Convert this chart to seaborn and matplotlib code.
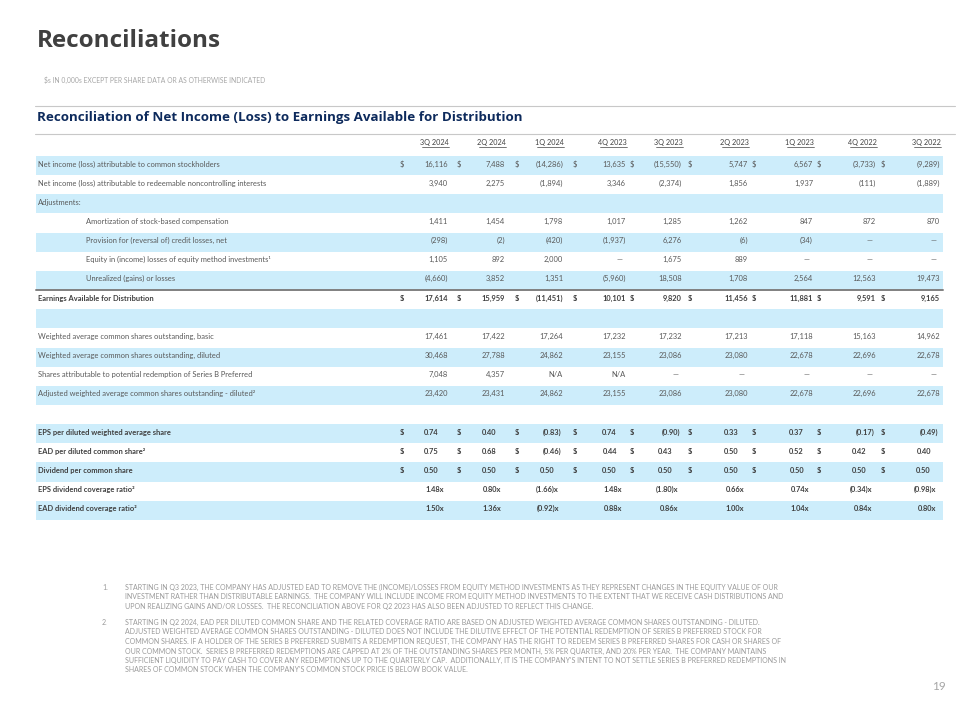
#!/usr/bin/env python
# reconciliations table slide
import numpy as np
import seaborn as sns
import matplotlib.pyplot as plt

# ---- data ----
quarters = ['3Q 2024', '2Q 2024', '1Q 2024', '4Q 2023', '3Q 2023',
            '2Q 2023', '1Q 2023', '4Q 2022', '3Q 2022']

net_income_common = [16116, 7488, -14286, 13635, -15550, 5747, 6567, -3733, -9289]
net_income_nci = [3940, 2275, -1894, 3346, -2374, 1856, 1937, -111, -1889]
amortization = [1411, 1454, 1798, 1017, 1285, 1262, 847, 872, 870]
provision = [-298, -2, -420, -1937, 6276, -6, -34, None, None]
equity_method = [1105, 892, 2000, None, 1675, 889, None, None, None]
unrealized = [-4660, 3852, 1351, -5960, 18508, 1708, 2564, 12563, 19473]
ead_total = [17614, 15959, -11451, 10101, 9820, 11456, 11881, 9591, 9165]

wavg_basic = [17461, 17422, 17264, 17232, 17232, 17213, 17118, 15163, 14962]
wavg_diluted = [30468, 27788, 24862, 23155, 23086, 23080, 22678, 22696, 22678]
series_b_shares = [7048, 4357, 'N/A', 'N/A', None, None, None, None, None]
adj_wavg_diluted = [23420, 23431, 24862, 23155, 23086, 23080, 22678, 22696, 22678]

eps_per_share = [0.74, 0.40, -0.83, 0.74, -0.90, 0.33, 0.37, -0.17, -0.49]
ead_per_share = [0.75, 0.68, -0.46, 0.44, 0.43, 0.50, 0.52, 0.42, 0.40]
dividend_per_share = [0.50, 0.50, 0.50, 0.50, 0.50, 0.50, 0.50, 0.50, 0.50]
eps_coverage = [1.48, 0.80, -1.66, 1.48, -1.80, 0.66, 0.74, -0.34, -0.98]
ead_coverage = [1.50, 1.36, -0.92, 0.88, 0.86, 1.00, 1.04, 0.84, 0.80]

# label, indent, bold, kind, dollar sign, values
rows = [
    ('Net income (loss) attributable to common stockholders', False, False, 'int', True, net_income_common),
    ('Net income (loss) attributable to redeemable noncontrolling interests', False, False, 'int', False, net_income_nci),
    ('Adjustments:', False, False, None, False, None),
    ('Amortization of stock-based compensation', True, False, 'int', False, amortization),
    ('Provision for (reversal of) credit losses, net', True, False, 'int', False, provision),
    ('Equity in (income) losses of equity method investments\u00b9', True, False, 'int', False, equity_method),
    ('Unrealized (gains) or losses', True, False, 'int', False, unrealized),
    ('Earnings Available for Distribution', False, True, 'int', True, ead_total),
    ('', False, False, None, False, None),
    ('Weighted average common shares outstanding, basic', False, False, 'int', False, wavg_basic),
    ('Weighted average common shares outstanding, diluted', False, False, 'int', False, wavg_diluted),
    ('Shares attributable to potential redemption of Series B Preferred', False, False, 'int', False, series_b_shares),
    ('Adjusted weighted average common shares outstanding - diluted\u00b2', False, False, 'int', False, adj_wavg_diluted),
    ('', False, False, None, False, None),
    ('EPS per diluted weighted average share', False, True, 'ps', True, eps_per_share),
    ('EAD per diluted common share\u00b2', False, True, 'ps', True, ead_per_share),
    ('Dividend per common share', False, True, 'ps', True, dividend_per_share),
    ('EPS dividend coverage ratio\u00b2', False, True, 'ratio', False, eps_coverage),
    ('EAD dividend coverage ratio\u00b2', False, True, 'ratio', False, ead_coverage),
]

footnotes = [
    ['STARTING IN Q3 2023, THE COMPANY HAS ADJUSTED EAD TO REMOVE THE (INCOME)/LOSSES FROM EQUITY METHOD INVESTMENTS AS THEY REPRESENT CHANGES IN THE EQUITY VALUE OF OUR',
     'INVESTMENT RATHER THAN DISTRIBUTABLE EARNINGS.  THE COMPANY WILL INCLUDE INCOME FROM EQUITY METHOD INVESTMENTS TO THE EXTENT THAT WE RECEIVE CASH DISTRIBUTIONS AND',
     'UPON REALIZING GAINS AND/OR LOSSES.  THE RECONCILIATION ABOVE FOR Q2 2023 HAS ALSO BEEN ADJUSTED TO REFLECT THIS CHANGE.'],
    ['STARTING IN Q2 2024, EAD PER DILUTED COMMON SHARE AND THE RELATED COVERAGE RATIO ARE BASED ON ADJUSTED WEIGHTED AVERAGE COMMON SHARES OUTSTANDING - DILUTED.',
     'ADJUSTED WEIGHTED AVERAGE COMMON SHARES OUTSTANDING - DILUTED DOES NOT INCLUDE THE DILUTIVE EFFECT OF THE POTENTIAL REDEMPTION OF SERIES B PREFERRED STOCK FOR',
     'COMMON SHARES. IF A HOLDER OF THE SERIES B PREFERRED SUBMITS A REDEMPTION REQUEST, THE COMPANY HAS THE RIGHT TO REDEEM SERIES B PREFERRED SHARES FOR CASH OR SHARES OF',
     'OUR COMMON STOCK.  SERIES B PREFERRED REDEMPTIONS ARE CAPPED AT 2% OF THE OUTSTANDING SHARES PER MONTH, 5% PER QUARTER, AND 20% PER YEAR.  THE COMPANY MAINTAINS',
     "SUFFICIENT LIQUIDITY TO PAY CASH TO COVER ANY REDEMPTIONS UP TO THE QUARTERLY CAP.  ADDITIONALLY, IT IS THE COMPANY'S INTENT TO NOT SETTLE SERIES B PREFERRED REDEMPTIONS IN",
     "SHARES OF COMMON STOCK WHEN THE COMPANY'S COMMON STOCK PRICE IS BELOW BOOK VALUE."],
]

# ---- layout ----
col_edges = [448, 505, 563, 626, 682, 748, 813, 876, 940]
dollar_x = [400, 457, 515, 573, 630, 688, 752, 817, 881]
row_top0 = 156
row_h = 19.15
stripe = '#cdedfb'
label_c = '#595959'
bold_c = '#3f3f3f'
fs = 5.4


def fmt_int(v):
    if v is None:
        return '\u2014'
    if isinstance(v, str):
        return v
    return f'({-v:,})' if v < 0 else f'{v:,}'


def fmt_dec(v, suffix=''):
    return (f'({-v:.2f})' if v < 0 else f'{v:.2f}') + suffix


def main():
    sns.set_theme(style='white')
    plt.rcParams['font.family'] = ['Lato', 'DejaVu Sans']

    fig = plt.figure(figsize=(9.6, 7.2), dpi=100)
    ax = fig.add_axes([0, 0, 1, 1])
    ax.set_xlim(0, 960)
    ax.set_ylim(720, 0)
    ax.axis('off')

    ax.text(37, 47, 'Reconciliations', fontsize=17.5, fontweight='bold',
            color='#404040', family=['Open Sans', 'DejaVu Sans'], va='baseline')
    ax.text(44, 80, '$s IN 0,000s EXCEPT PER SHARE DATA OR AS OTHERWISE INDICATED',
            fontsize=4.9, color='#a6a6a6', va='center')

    ax.plot([35, 955], [106, 106], color='#c8c8c8', lw=0.8)
    ax.text(37, 117, 'Reconciliation of Net Income (Loss) to Earnings Available for Distribution',
            fontsize=9.6, fontweight='bold', color='#0d2a5c', va='center',
            family=['Open Sans', 'DejaVu Sans'])
    ax.plot([35, 955], [134, 134], color='#c8c8c8', lw=0.8)

    # column headers with underline
    for q, e in zip(quarters, col_edges):
        ax.text(e + 1, 143, q, fontsize=5.2, color=bold_c, ha='right', va='center')
        ax.plot([e - 26, e + 1], [147, 147], color=bold_c, lw=0.5)

    for i, (label, indent, bold, kind, dollar, vals) in enumerate(rows):
        top = row_top0 + i * row_h
        yc = top + 8
        if i % 2 == 0:
            ax.axhspan(top, top + row_h, xmin=36 / 960, xmax=943 / 960, color=stripe, lw=0)
        w = 'bold' if bold else 'normal'
        c = bold_c if bold else label_c
        ax.text(86 if indent else 38, yc, label, fontsize=fs, color=c,
                fontweight=w, va='center')
        if vals is None:
            continue
        for j, v in enumerate(vals):
            e = col_edges[j]
            if dollar:
                ax.text(dollar_x[j], yc, '$', fontsize=fs, color=c,
                        fontweight=w, va='center')
            if kind == 'int':
                s = fmt_int(v)
                x = e - 3 if v is None else e
            elif kind == 'ps':
                s = fmt_dec(v)
                x = e - 2 if v < 0 else e - 9
            else:
                s = fmt_dec(v, 'x')
                x = e - 4
            ax.text(x, yc, s, fontsize=fs, color=c, fontweight=w,
                    ha='right', va='center')

    # heavy rule above Earnings Available for Distribution
    y_rule = row_top0 + 7 * row_h
    ax.plot([36, 943], [y_rule, y_rule], color='#808080', lw=1.4)

    # footnotes
    y = 587
    for n, lines in enumerate(footnotes, start=1):
        ax.text(102, y, f'{n}.', fontsize=5.0, color='#9a9a9a', va='center')
        for ln in lines:
            ax.text(125, y, ln, fontsize=5.0, color='#9a9a9a', va='center')
            y += 9.5
        y += 7

    ax.text(946, 686, '19', fontsize=8.5, color='#a6a6a6', ha='right', va='center')

    fig.savefig('out.png', dpi=100)


if __name__ == '__main__':
    main()
